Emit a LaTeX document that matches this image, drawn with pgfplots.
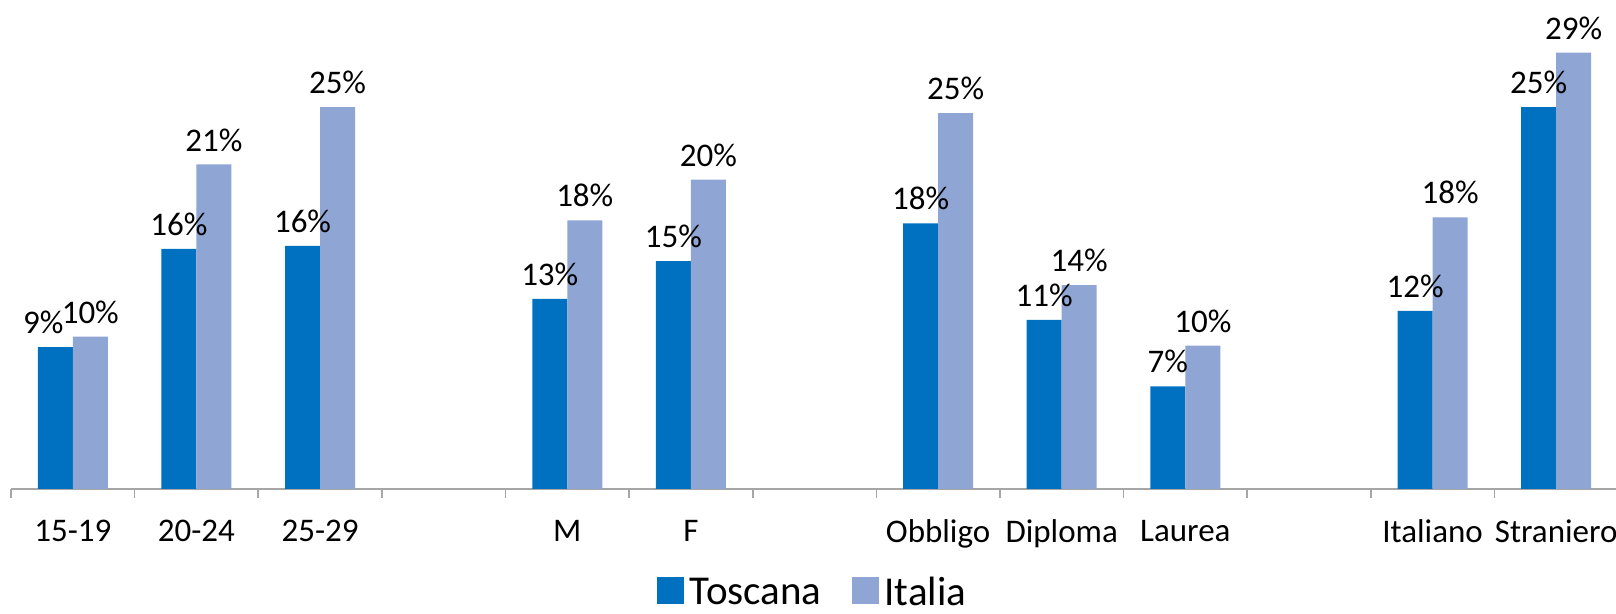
\documentclass[border=0pt]{standalone}
\usepackage{fontspec}
\setmainfont{Carlito}
\usepackage{pgfplots}
\pgfplotsset{compat=1.18}
\definecolor{toscana}{RGB}{0,112,192}
\definecolor{italia}{RGB}{143,165,212}
\definecolor{asse}{RGB}{166,166,166}
\begin{document}
\begin{tikzpicture}
\begin{axis}[
  at={(5.5pt,62.5pt)}, anchor=south west,
  scale only axis, width=803.5pt, height=234pt,
  ybar=0pt, bar width=17.5pt,
  xmin=-0.5, xmax=12.5, ymin=0, ymax=31,
  axis x line=bottom, axis y line=none,
  x axis line style={-, draw=asse, line width=0.8pt},
  xtick={0,...,12},
  xticklabels={15-19,20-24,25-29,,M,F,,Obbligo,Diploma,Laurea,,Italiano,Straniero},
  major tick length=0pt,
  minor xtick={-0.5,0.5,...,12.5},
  minor tick length=4.5pt, tick align=outside,
  minor x tick style={draw=asse, line width=0.8pt},
  xticklabel style={font=\fontsize{16.5}{20}\selectfont, yshift=-12pt},
  ytick=\empty,
  nodes near coords, point meta=explicit symbolic,
  every node near coord/.append style={font=\fontsize{16.5}{20}\selectfont, text=black, yshift=3pt},
  clip=false,
  legend style={at={(0.5,0)}, anchor=center, yshift=-52pt, draw=none,
    font=\fontsize{20.5}{25}\selectfont, legend columns=2,
    nodes={inner xsep=3pt},
    /tikz/every even column/.append style={column sep=12pt}},
  legend image code/.code={\draw[#1, draw=none] (0pt,-5.5pt) rectangle (13.5pt,8pt);},
]
% Toscana
\addplot[fill=toscana, draw=none] coordinates {
  (0,9.4) [\kern-12pt 9\%] (1,15.9) [16\%] (2,16.1) [16\%]
  (4,12.6) [13\%] (5,15.1) [15\%]
  (7,17.6) [18\%] (8,11.2) [11\%] (9,6.8) [7\%]
  (11,11.8) [12\%] (12,25.3) [25\%]
};
% Italia
\addplot[fill=italia, draw=none] coordinates {
  (0,10.1) [10\%] (1,21.5) [21\%] (2,25.3) [25\%]
  (4,17.8) [18\%] (5,20.5) [20\%]
  (7,24.9) [25\%] (8,13.5) [14\%] (9,9.5) [10\%]
  (11,18.0) [18\%] (12,28.9) [29\%]
};
\legend{Toscana, Italia}
\end{axis}
\pgfresetboundingbox
\path (0,0) rectangle (808pt,307pt);
\end{tikzpicture}
\end{document}
